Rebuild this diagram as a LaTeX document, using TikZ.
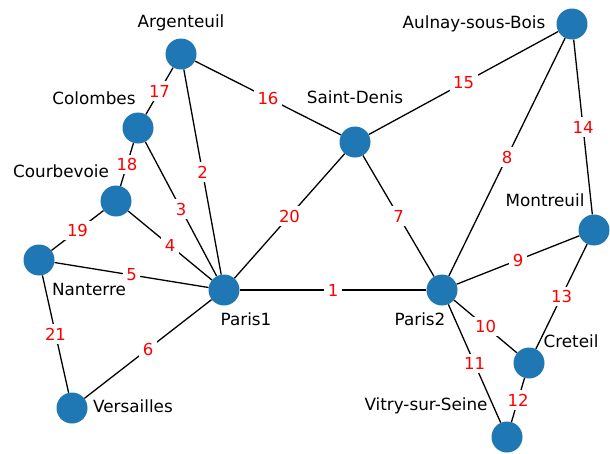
\documentclass[tikz,border=0pt]{standalone}
\usepackage{fontspec}
\setmainfont{DejaVu Sans}
\definecolor{cityblue}{HTML}{1F77B4}

\begin{document}
\begin{tikzpicture}[x=1pt,y=-1pt,
  city/.style={circle,fill=cityblue,minimum size=31pt,inner sep=0pt},
  cityname/.style={font=\fontsize{16.8}{20}\selectfont},
  road/.style={line width=1.3pt},
  dist/.style={font=\fontsize{16.5}{19}\selectfont,text=red,fill=white,inner sep=3.5pt}]

\useasboundingbox (0,0) rectangle (610,453);

\node[city] (arg) at (181,54) {};
\node[city] (col) at (138,128) {};
\node[city] (cou) at (116,201) {};
\node[city] (nan) at (39,260) {};
\node[city] (ver) at (72,408) {};
\node[city] (pa1) at (224,290) {};
\node[city] (sde) at (355,142) {};
\node[city] (aul) at (572,24) {};
\node[city] (mon) at (594,230) {};
\node[city] (pa2) at (442,290) {};
\node[city] (cre) at (529,363) {};
\node[city] (vit) at (507,437) {};

\node[cityname] (argname) at (181,23) {Argenteuil};
\node[cityname] (colname) at (94,98) {Colombes};
\node[cityname] (couname) at (61,171) {Courbevoie};
\node[cityname] (nanname) at (89,289) {Nanterre};
\node[cityname] (vername) at (133,406) {Versailles};
\node[cityname] (pa1name) at (246,319) {Paris1};
\node[cityname] (sdename) at (355,97) {Saint-Denis};
\node[cityname] (aulname) at (474,24) {Aulnay-sous-Bois};
\node[cityname] (monname) at (545,200) {Montreuil};
\node[cityname] (pa2name) at (420,319) {Paris2};
\node[cityname] (crename) at (571,341) {Creteil};
\node[cityname] (vitname) at (426,406) {Vitry-sur-Seine};

\draw[road] (pa1)-- node[dist] {1} (pa2);
\draw[road] (arg)-- node[dist] {2} (pa1);
\draw[road] (col)-- node[dist] {3} (pa1);
\draw[road] (cou)-- node[dist] {4} (pa1);
\draw[road] (nan)-- node[dist] {5} (pa1);
\draw[road] (ver)-- node[dist] {6} (pa1);
\draw[road] (sde)-- node[dist] {7} (pa2);
\draw[road] (aul)-- node[dist] {8} (pa2);
\draw[road] (mon)-- node[dist] {9} (pa2);
\draw[road] (cre)-- node[dist] {10} (pa2);
\draw[road] (vit)-- node[dist] {11} (pa2);

\draw[road] (vit)-- node[dist] {12} (cre);
\draw[road] (cre)-- node[dist] {13} (mon);
\draw[road] (mon)-- node[dist] {14} (aul);
\draw[road] (aul)-- node[dist] {15} (sde);
\draw[road] (sde)-- node[dist] {16} (arg);
\draw[road] (arg)-- node[dist] {17} (col);
\draw[road] (col)-- node[dist] {18} (cou);
\draw[road] (cou)-- node[dist] {19} (nan);
\draw[road] (sde)-- node[dist] {20} (pa1);
\draw[road] (nan)-- node[dist] {21} (ver);

\end{tikzpicture}
\end{document}
